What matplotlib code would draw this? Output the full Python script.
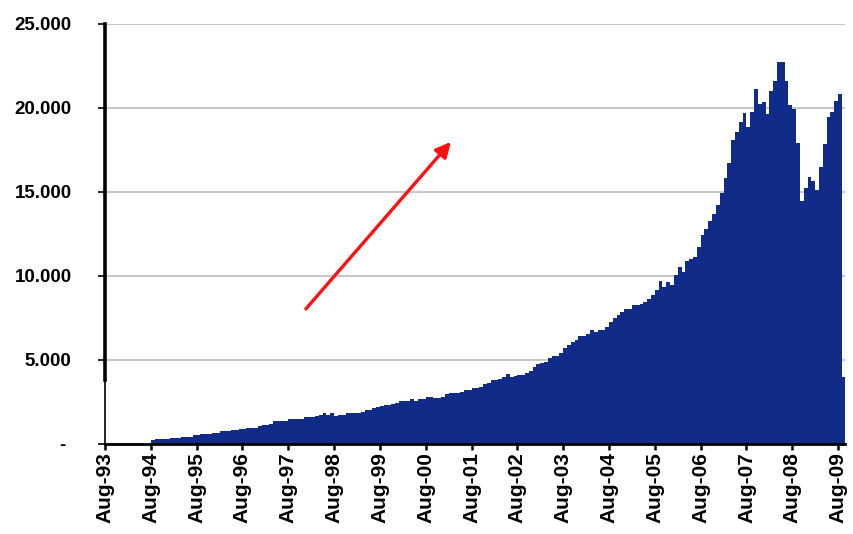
import matplotlib
matplotlib.use("Agg")
import matplotlib.pyplot as plt
import numpy as np

# ---- data (monthly, index 0 = Aug-93) ----
start_index = 12  # first bar: Aug-94
values = [
    240, 290, 300, 300, 310, 370, 375, 380, 410, 415, 420, 530,
    540, 590, 595, 600, 635, 640, 770, 775, 780, 830, 840, 885,
    890, 940, 950, 955, 1090, 1130, 1140, 1190, 1360, 1370, 1380, 1390,
    1470, 1480, 1490, 1500, 1600, 1610, 1620, 1670, 1730, 1830, 1730, 1830,
    1650, 1720, 1730, 1820, 1830, 1830, 1840, 1880, 2010, 2030, 2160, 2220,
    2280, 2310, 2330, 2410, 2430, 2550, 2560, 2570, 2680, 2560, 2670, 2690,
    2770, 2790, 2720, 2750, 2780, 2980, 3040, 3050, 3060, 3110, 3200, 3220,
    3350, 3360, 3370, 3570, 3650, 3800, 3820, 3890, 3970, 4150, 4010, 4020,
    4100, 4120, 4210, 4360, 4600, 4740, 4850, 4870, 5100, 5240, 5250, 5430,
    5690, 5890, 6050, 6190, 6420, 6440, 6530, 6790, 6690, 6780, 6800, 6980,
    7280, 7480, 7680, 7840, 8010, 8030, 8270, 8250, 8310, 8470, 8610, 8870,
    9170, 9720, 9370, 9660, 9460, 10060, 10520, 10260, 10890, 11000, 11150, 11740,
    12440, 12800, 13290, 13690, 14230, 14920, 15810, 16710, 18100, 18590, 19180, 19720,
    18850, 19760, 21130, 20240, 20360, 19640, 21010, 21610, 22740, 22740, 21610, 20180,
    19940, 17920, 14460, 15240, 15890, 15650, 15120, 16490, 17860, 19460, 19760, 20420,
    20830, 3990,
]
tick_labels = ["Aug-93", "Aug-94", "Aug-95", "Aug-96", "Aug-97", "Aug-98", "Aug-99",
               "Aug-00", "Aug-01", "Aug-02", "Aug-03", "Aug-04", "Aug-05", "Aug-06",
               "Aug-07", "Aug-08", "Aug-09"]
y_ticks = [0, 5000, 10000, 15000, 20000, 25000]
y_tick_labels = ["- ", "5.000", "10.000", "15.000", "20.000", "25.000"]
arrow_start = (52.6, 8040)
arrow_end = (90.6, 17980)

plt.rcParams['font.family'] = ['Liberation Sans', 'DejaVu Sans']

fig = plt.figure(figsize=(8.54, 5.34), dpi=100)
ax = fig.add_axes([105/854, 90/534, 740/854, 420/534])

x = np.arange(start_index, start_index + len(values))
ax.bar(x, values, width=1.0, align='edge', color='#102C88', edgecolor='none', zorder=2)

ax.set_xlim(0, 193.8)
ax.set_ylim(0, 25000)

ax.set_xticks(np.arange(0, 12 * len(tick_labels), 12))
ax.set_xticklabels(tick_labels, rotation=90, fontsize=15, fontweight='bold')
ax.set_yticks(y_ticks)
ax.set_yticklabels(y_tick_labels, fontsize=13.5, fontweight='bold')

ax.tick_params(axis='x', direction='out', length=4.5, width=1.8, pad=1.5, color='black')
ax.tick_params(axis='y', direction='out', length=5, width=1.2, pad=19, color='black')

ax.grid(axis='y', color='#C8C8C8', linewidth=1.5, zorder=0)
ax.set_axisbelow(True)

for s in ['top', 'right']:
    ax.spines[s].set_visible(False)
ax.spines['bottom'].set_linewidth(2.0)
ax.spines['bottom'].set_zorder(3)
ax.spines['left'].set_linewidth(1.2)
ax.axvline(0, ymin=0.152, ymax=1, color='black', linewidth=2.6, zorder=3, clip_on=False)

ax.annotate('', xy=arrow_end, xytext=arrow_start,
            arrowprops=dict(arrowstyle='-|>,head_length=0.9,head_width=0.45',
                            color='#FF1010', linewidth=2.4, shrinkA=0, shrinkB=0),
            zorder=4)

fig.savefig('out.png', dpi=100)
